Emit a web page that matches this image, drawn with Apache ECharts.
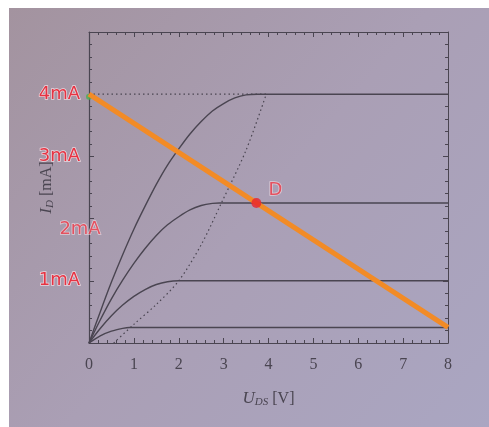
<!DOCTYPE html>
<html>
<head>
<meta charset="utf-8">
<script src="https://cdn.jsdelivr.net/npm/echarts@6/dist/echarts.min.js"></script>
<style>html,body{margin:0;padding:0;background:#fff;}#c{width:489px;height:427px;}</style>
</head>
<body>
<div id="c"></div>
<script>
// ---- data ----
const xTicks = [0, 1, 2, 3, 4, 5, 6, 7, 8];
const yTickLabels = {1: '1mA', 3: '3mA', 4: '4mA'};
const curve1 = [[0,0],[0.25,0.115],[0.5,0.19],[0.75,0.235],[0.9,0.25],[8,0.25]];
const curve2 = [[0,0],[0.25,0.234],[0.5,0.438],[0.75,0.61],[1,0.75],[1.25,0.86],[1.5,0.94],[1.75,0.985],[2,1],[8,1]];
const curve3 = [[0,0],[0.25,0.37],[0.5,0.71],[0.75,1.01],[1,1.28],[1.25,1.52],[1.5,1.73],[1.75,1.9],[2,2.03],[2.25,2.14],[2.5,2.21],[2.75,2.245],[2.9,2.25],[8,2.25]];
const curve4 = [[0,0],[0.25,0.5],[0.5,0.98],[0.75,1.42],[1,1.83],[1.25,2.2],[1.5,2.55],[1.75,2.86],[2,3.12],[2.25,3.36],[2.5,3.56],[2.75,3.73],[3,3.85],[3.25,3.94],[3.5,3.99],[3.75,4],[8,4]];
const boundary = [[0.55,0],[1,0.3],[1.5,0.62],[2,1],[2.5,1.58],[2.95,2.25],[3.5,3.1],[3.95,4]];
const level4 = [[0,4],[3.95,4]];
const loadLine = [[0,4],[8,0.25]];
const pointD = [[3.73,2.25]];
const startDot = [[0,3.96]];
const extraLabel = [[-0.2,1.82,'2mA']];

const ink = '#4a4551';
const red = '#e63342';
const chart = echarts.init(document.getElementById('c'));

const curveSeries = [curve1, curve2, curve3, curve4].map(d => ({
  type: 'line', data: d, showSymbol: false, smooth: 0.3, z: 2,
  lineStyle: {color: ink, width: 1.4}
}));

const redText = () => ({
  color: red, fontFamily: 'DejaVu Sans', fontSize: 18,
  textBorderColor: 'rgba(255,235,240,0.75)', textBorderWidth: 1.5
});
const lineOf = (w) => ({show: true, onZero: false, lineStyle: {color: ink, width: w}});
const tickIn = () => ({show: true, inside: true, length: 5, lineStyle: {color: ink, width: 1}});
const minorIn = () => ({show: true, splitNumber: 5, length: 3, lineStyle: {color: ink, width: 1}});
const nameRich = () => ({
  i: {fontStyle: 'italic', fontSize: 17, color: ink, fontFamily: 'Liberation Serif'},
  s: {fontStyle: 'italic', fontSize: 11, color: ink, fontFamily: 'Liberation Serif', verticalAlign: 'bottom', padding: [8, 0, 0, 0]}
});

chart.setOption({
  animation: false,
  backgroundColor: '#ffffff',
  graphic: [{
    type: 'rect', z: -10, silent: true,
    shape: {x: 9, y: 8, width: 480, height: 419},
    style: {fill: new echarts.graphic.LinearGradient(0, 0, 1, 1, [
      {offset: 0, color: '#a3939f'},
      {offset: 0.5, color: '#aa9fb5'},
      {offset: 1, color: '#aaa6c2'}
    ])}
  }],
  grid: {left: 89, right: 41, top: 32, bottom: 84},
  xAxis: [{
    type: 'value', min: 0, max: 8, interval: 1,
    axisLine: lineOf(1.2),
    axisTick: tickIn(), minorTick: minorIn(),
    splitLine: {show: false},
    axisLabel: {color: ink, fontFamily: 'Liberation Serif', fontSize: 16, margin: 14,
      formatter: v => xTicks.includes(v) ? String(v) : ''},
    name: '{i|U}{s|DS} [V]', nameLocation: 'middle', nameGap: 46, nameMoveOverlap: false,
    nameTextStyle: {color: ink, fontFamily: 'Liberation Serif', fontSize: 16, rich: nameRich()}
  }, {
    type: 'value', min: 0, max: 8, interval: 1, position: 'top',
    axisLine: lineOf(1),
    axisTick: tickIn(), minorTick: minorIn(),
    axisLabel: {show: false}, splitLine: {show: false}
  }],
  yAxis: [{
    type: 'value', min: 0, max: 5, interval: 1,
    axisLine: lineOf(1.2),
    axisTick: tickIn(), minorTick: minorIn(),
    splitLine: {show: false},
    axisLabel: Object.assign({margin: 9, formatter: v => yTickLabels[v] || ''}, redText()),
    name: '{i|I}{s|D} [mA]', nameLocation: 'middle', nameGap: 33, nameRotate: 90, nameMoveOverlap: false,
    nameTextStyle: {color: ink, fontFamily: 'Liberation Serif', fontSize: 16, rich: nameRich()}
  }, {
    type: 'value', min: 0, max: 5, interval: 1, position: 'right',
    axisLine: lineOf(1),
    axisTick: tickIn(), minorTick: minorIn(),
    axisLabel: {show: false}, splitLine: {show: false}
  }],
  series: curveSeries.concat([
    {type: 'line', data: boundary, showSymbol: false, smooth: 0.3, z: 2,
     lineStyle: {color: ink, width: 1.2, type: [1.5, 3]}},
    {type: 'line', data: level4, showSymbol: false, z: 2,
     lineStyle: {color: ink, width: 1.2, type: [1.5, 3]}},
    {type: 'scatter', data: startDot, symbolSize: 6, z: 3, itemStyle: {color: '#4caf50'}},
    {type: 'line', data: loadLine, showSymbol: false, z: 4,
     lineStyle: {color: '#f28b26', width: 5}},
    {type: 'scatter', data: pointD, symbolSize: 10, z: 5, itemStyle: {color: '#e8222c'},
     label: Object.assign({show: true, formatter: 'D', position: 'right', offset: [2, -13]}, redText())},
    {type: 'scatter', data: extraLabel, symbolSize: 0, clip: false, z: 5,
     label: Object.assign({show: true, formatter: p => p.data[2], position: 'inside'}, redText())}
  ])
});
</script>
</body>
</html>
